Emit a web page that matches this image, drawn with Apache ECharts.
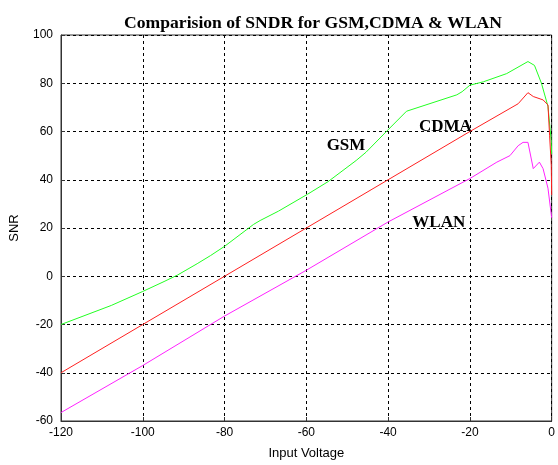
<!DOCTYPE HTML>
<html>
    <head>
        <title>SNDR comparison</title>
        <meta charset="utf-8">
        <script src="https://cdn.jsdelivr.net/npm/echarts@6/dist/echarts.min.js"></script>
        <style>
            body { margin: 0; background: #fff; }
            #chart { width: 558px; height: 465px; }
        </style>
    </head>
    <body>
        <div id="chart"></div>
        <script>
        // x = input voltage, y = SNR
        var gsmX  = [-120, -107.7, -100, -94.8, -91.5, -86.7, -83.4, -80, -72.9, -71.3, -66.8, -59.7, -54.7, -47.8, -45.4, -39.9, -35.5, -23.2, -21.9, -20, -16.7, -11, -5.8, -4.2, -2.5, -0.9, -0.15, 0];
        var gsmY  = [-20, -12.1, -6.3, -2.2, 0.5, 5.2, 8.6, 12.4, 21.5, 23.1, 27, 34, 39.2, 48, 51.4, 60.9, 68.4, 75.2, 76.5, 79.2, 80.6, 84, 89, 87.4, 80, 70.4, 56.8, 50.7];
        var cdmaX = [-120, -100, -80, -60, -40, -20, -8.2, -5.8, -4.5, -2.1, -0.9, -0.5, -0.1, 0];
        var cdmaY = [-40, -20, 0, 20, 40, 60, 71.5, 76.1, 74.5, 73.1, 71, 58.2, 46, 33.7];
        var wlanX = [-120, -100, -80, -60, -40, -20, -13.4, -10.2, -8.2, -7, -5.8, -4.5, -3, -2.1, -0.9, 0];
        var wlanY = [-56.5, -37, -16.5, 2.5, 22.5, 40.5, 47.3, 50, 54.1, 55.5, 55.5, 44.6, 47.3, 44.6, 36.5, 24.2];

        // curve names written on the plot
        var tagNames = ['GSM', 'CDMA', 'WLAN'];
        var tagX = [-50.3, -26, -27.6];
        var tagY = [54, 62, 22.2];

        function pairs(xs, ys) {
            var out = [];
            for (var i = 0; i < xs.length; i++) {
                out.push([xs[i], ys[i]]);
            }
            return out;
        }

        var tags = [];
        for (var t = 0; t < tagNames.length; t++) {
            tags.push({ name: tagNames[t], value: [tagX[t], tagY[t]] });
        }

        var gridStyle = { show: true, lineStyle: { color: '#000', type: [3, 3], width: 1 } };
        var axisFont = { color: '#000', fontFamily: 'Liberation Sans', fontSize: 12 };
        var nameFont = { color: '#000', fontFamily: 'Liberation Sans', fontSize: 13 };

        var myChart = echarts.init(document.getElementById('chart'));
        myChart.setOption({
            animation: false,
            title: {
                text: 'Comparision of SNDR for GSM,CDMA & WLAN',
                left: 308, top: 9, textAlign: 'center',
                textStyle: { fontFamily: 'Liberation Serif', fontWeight: 'bold', fontSize: 17.6, color: '#000' }
            },
            grid: { left: 61, right: 2, top: 35, bottom: 39, show: true, borderColor: '#333', borderWidth: 1 },
            xAxis: {
                type: 'value', min: -120, max: 0, interval: 20,
                name: 'Input Voltage', nameLocation: 'middle', nameGap: 26,
                nameTextStyle: nameFont,
                axisLine: { onZero: false, lineStyle: { color: '#333' } },
                axisTick: { inside: true, length: 4, lineStyle: { color: '#333' } },
                axisLabel: Object.assign({ margin: 6 }, axisFont),
                splitLine: gridStyle
            },
            yAxis: {
                type: 'value', min: -60, max: 100, interval: 20,
                name: 'SNR', nameLocation: 'middle', nameGap: 40,
                nameTextStyle: nameFont,
                axisLine: { show: true, onZero: false, lineStyle: { color: '#333' } },
                axisTick: { show: true, inside: true, length: 4, lineStyle: { color: '#333' } },
                axisLabel: axisFont,
                splitLine: gridStyle
            },
            series: [
                { name: 'GSM', type: 'line', data: pairs(gsmX, gsmY), showSymbol: false, lineStyle: { color: '#22ff22', width: 1 } },
                { name: 'CDMA', type: 'line', data: pairs(cdmaX, cdmaY), showSymbol: false, lineStyle: { color: '#ff2020', width: 1 } },
                { name: 'WLAN', type: 'line', data: pairs(wlanX, wlanY), showSymbol: false, lineStyle: { color: '#ff22ff', width: 1 } },
                {
                    type: 'scatter', data: tags, symbolSize: 0, silent: true,
                    itemStyle: { color: 'rgba(0,0,0,0)', opacity: 1 },
                    label: {
                        show: true, position: [0, 0], align: 'center', verticalAlign: 'middle', formatter: '{b}',
                        fontFamily: 'Liberation Serif', fontWeight: 'bold', fontSize: 17, color: '#000'
                    }
                }
            ]
        });
        </script>
    </body>
</html>
